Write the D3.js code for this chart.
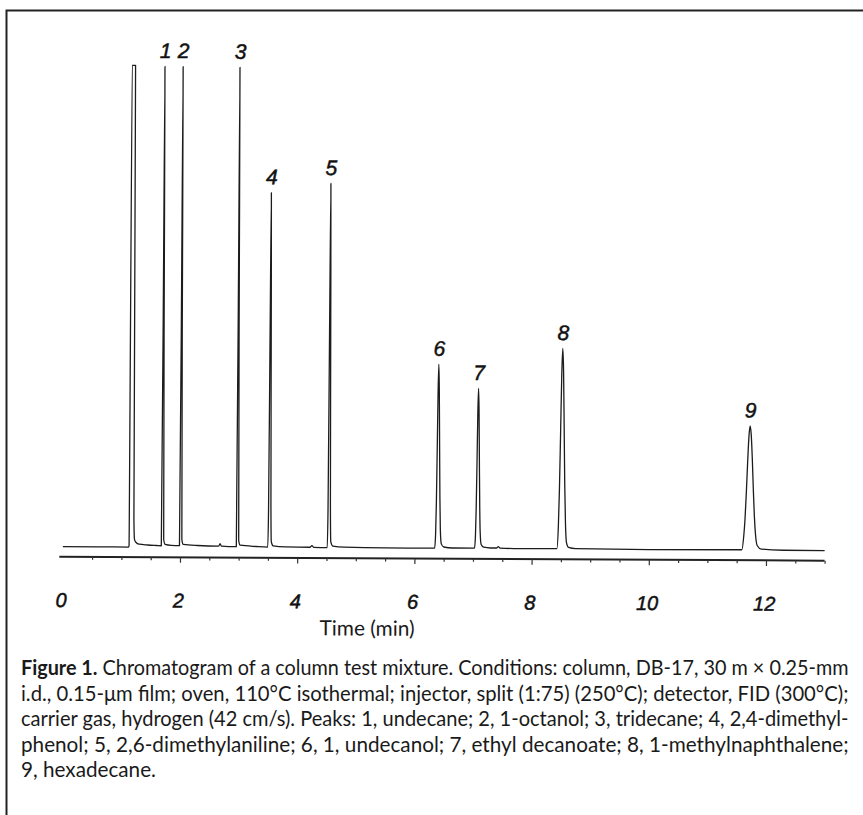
<!DOCTYPE html>
<html>
<head>
<meta charset="utf-8">
<script src="https://cdn.jsdelivr.net/npm/d3@7/dist/d3.min.js"></script>
<style>
  body { margin: 0; background: #fff; }
  svg { display: block; }
  .num { font-family: "Liberation Sans", Arial, Helvetica, sans-serif; font-style: italic; fill: #111; stroke: #111; stroke-width: 0.5; }
  .cap { font-family: Lato, "Noto Sans", sans-serif; fill: #1a1a1a; }
</style>
</head>
<body>
<svg id="chart"></svg>
<script>
// Detector trace: [time (min), signal (% of full scale)]
const trace = [
    [0.00, 0.0], [0.60, 0.0], [1.120, 0.0], [1.130, 0.3], [1.140, 100], [1.198, 100],
    [1.210, 6], [1.222, 1.6], [1.245, 1.0], [1.30, 0.6], [1.45, 0.45], [1.60, 0.35],
    [1.680, 0.3], [1.692, 45], [1.700, 99.8], [1.708, 47], [1.720, 1.6], [1.745, 0.6], [1.85, 0.4],
    [1.990, 0.35], [2.002, 45], [2.010, 99.8], [2.018, 47], [2.030, 1.6], [2.055, 0.6], [2.30, 0.4],
    [2.66, 0.3], [2.683, 0.8], [2.705, 0.3],
    [2.960, 0.2], [2.972, 45], [2.980, 99.7], [2.988, 47], [3.000, 1.5], [3.025, 0.5], [3.30, 0.25],
    [3.497, 0.15], [3.507, 8.1], [3.517, 42.7], [3.527, 73.7], [3.537, 44], [3.547, 9], [3.557, 1.2],
    [3.59, 0.4], [3.80, 0.2], [4.22, 0.15], [4.25, 0.5], [4.28, 0.15],
    [4.512, 0.1], [4.522, 8.3], [4.532, 43.9], [4.542, 75.7], [4.552, 45], [4.562, 9.3], [4.572, 1.3],
    [4.61, 0.4], [4.80, 0.2], [5.50, 0.1],
    [6.345, 0.1], [6.360, 3.2], [6.370, 9.5], [6.380, 20.7], [6.390, 32.8], [6.400, 38.3],
    [6.410, 33.2], [6.420, 21.5], [6.430, 10.5], [6.440, 4.0], [6.458, 1.0], [6.50, 0.35], [6.65, 0.15],
    [7.025, 0.15], [7.040, 2.8], [7.050, 8.3], [7.060, 18.0], [7.070, 28.5], [7.080, 33.3],
    [7.090, 28.9], [7.100, 18.7], [7.110, 9.1], [7.120, 3.5], [7.138, 0.9], [7.18, 0.35], [7.30, 0.2],
    [7.40, 0.2], [7.43, 0.5], [7.46, 0.2], [7.70, 0.1],
    [8.430, 0.15], [8.454, 4.9], [8.469, 12.5], [8.484, 24.4], [8.499, 36.5], [8.514, 41.7],
    [8.529, 37.0], [8.544, 25.5], [8.559, 13.5], [8.574, 5.8], [8.594, 1.4], [8.63, 0.4], [8.75, 0.15],
    [10.0, 0.05],
    [11.588, 0.1], [11.618, 2.9], [11.638, 6.4], [11.658, 11.8], [11.678, 18.2], [11.698, 23.6],
    [11.718, 25.8], [11.738, 23.8], [11.758, 18.8], [11.778, 12.5], [11.798, 7.0], [11.818, 3.4],
    [11.848, 1.0], [11.92, 0.25], [12.3, 0.05], [13.0, 0.0]
];

// Peak numbers and their retention times (min)
const peakNames = ["1", "2", "3", "4", "5", "6", "7", "8", "9"];
const peakTimes = [1.700, 2.010, 2.980, 3.527, 4.542, 6.400, 7.080, 8.514, 11.718];

// Axis
const tickLabels = [0, 2, 4, 6, 8, 10, 12];
const minorTicks = d3.range(1, 27).map(function (i) { return i / 2; });
const axisTitle = "Time (min)";

// Figure caption, one entry per printed line
const captionBold = "Figure 1.";
const captionLines = [
    " Chromatogram of a column test mixture. Conditions: column, DB-17, 30 m \u00d7 0.25-mm",
    "i.d., 0.15-\u03bcm film; oven, 110\u00b0C isothermal; injector, split (1:75) (250\u00b0C); detector, FID (300\u00b0C);",
    "carrier gas, hydrogen (42 cm/s). Peaks: 1, undecane; 2, 1-octanol; 3, tridecane; 4, 2,4-dimethyl-",
    "phenol; 5, 2,6-dimethylaniline; 6, 1, undecanol; 7, ethyl decanoate; 8, 1-methylnaphthalene;",
    "9, hexadecane."
];

var W = 863, H = 815;
var x0 = 62.8, axisY = 556.7;

const svg = d3.select("#chart")
    .attr("width", W)
    .attr("height", H);

// Page frame (only top and left edges fall inside the picture)
svg.append("path")
    .attr("d", "M6.5,815V10.5H863")
    .attr("fill", "none")
    .attr("stroke", "#222")
    .attr("stroke-width", 2);

// the scanned chart sits very slightly rotated on the page
const g = svg.append("g")
    .attr("transform", "rotate(0.3," + x0 + "," + axisY + ")");

const x = d3.scaleLinear().domain([0, 13]).range([x0, 824.6]);
const y = d3.scaleLinear().domain([0, 100]).range([546.7, 65]);

// Adding the X Axis
const axisG = g.append("g")
    .attr("transform", "translate(0," + axisY + ")")
    .call(d3.axisBottom(x).tickValues(minorTicks).tickSize(2.5).tickSizeOuter(0).tickFormat(""));

axisG.select(".domain")
    .attr("d", "M" + (x(0) - 3.5) + ",0H" + x(13))
    .attr("stroke", "#222")
    .attr("stroke-width", 2);

axisG.selectAll(".tick line")
    .attr("stroke", "#333")
    .attr("stroke-width", 1.2)
    .attr("y2", function (d) { return (d % 2 === 0) ? 5.5 : 3; });

// tick labels
g.selectAll(".xlab")
    .data(tickLabels)
    .enter().append("text")
    .attr("class", "num xlab")
    .attr("x", function (d) { return x(d) - 1.5; })
    .attr("y", 607)
    .attr("text-anchor", "middle")
    .attr("font-size", 20)
    .text(function (d) { return d; });

// squeeze a text horizontally so it spans `width` px from its left edge
function fitWidth(sel, left, baseline, width) {
    var natural = sel.node().getComputedTextLength();
    var sx = width / natural;
    sel.attr("transform", "translate(" + left + "," + baseline + ") scale(" + sx + ",1)");
    return sx;
}

// Adding the X Axis label (condensed by squeezing to the printed width)
const xTitle = g.append("text")
    .attr("class", "cap")
    .attr("font-size", 21)
    .text(axisTitle);
fitWidth(xTitle, 320, 634, 95);

// Adding the trace
const line = d3.line()
    .x(function (d) { return x(d[0]); })
    .y(function (d) { return y(d[1]); })
    .curve(d3.curveMonotoneX);

g.append("path")
    .datum(trace)
    .attr("d", line)
    .attr("fill", "none")
    .attr("stroke", "#1c1c1c")
    .attr("stroke-width", 1.3)
    .attr("stroke-linejoin", "round");

// Peak numbers, put just above each apex
function apex(t) {
    return d3.max(trace.filter(function (p) { return Math.abs(p[0] - t) < 0.03; }), function (p) { return p[1]; });
}

g.selectAll(".plab")
    .data(peakNames)
    .enter().append("text")
    .attr("class", "num plab")
    .attr("x", function (d, i) { return x(peakTimes[i]) + 0.5; })
    .attr("y", function (d, i) { return y(apex(peakTimes[i])) - 8.5; })
    .attr("text-anchor", "middle")
    .attr("font-size", 21)
    .text(function (d) { return d; });

// Caption, justified to the column width; glyphs squeezed to look condensed
var capLeft = 21, capRight = 849, capTop = 675, lead = 25.6;
var squeeze = 1;

captionLines.forEach(function (s, i) {
    var t = svg.append("text")
        .attr("class", "cap")
        .attr("font-size", 21);
    if (i === 0) {
        t.append("tspan").attr("font-weight", "bold").text(captionBold);
        t.append("tspan").text(s);
    } else {
        t.text(s);
    }
    var natural = t.node().getComputedTextLength();
    var width = (i < captionLines.length - 1) ? capRight - capLeft : natural * squeeze;
    var sx = fitWidth(t, capLeft, capTop + i * lead, width);
    if (i === captionLines.length - 2) squeeze = sx;
});
</script>
</body>
</html>
